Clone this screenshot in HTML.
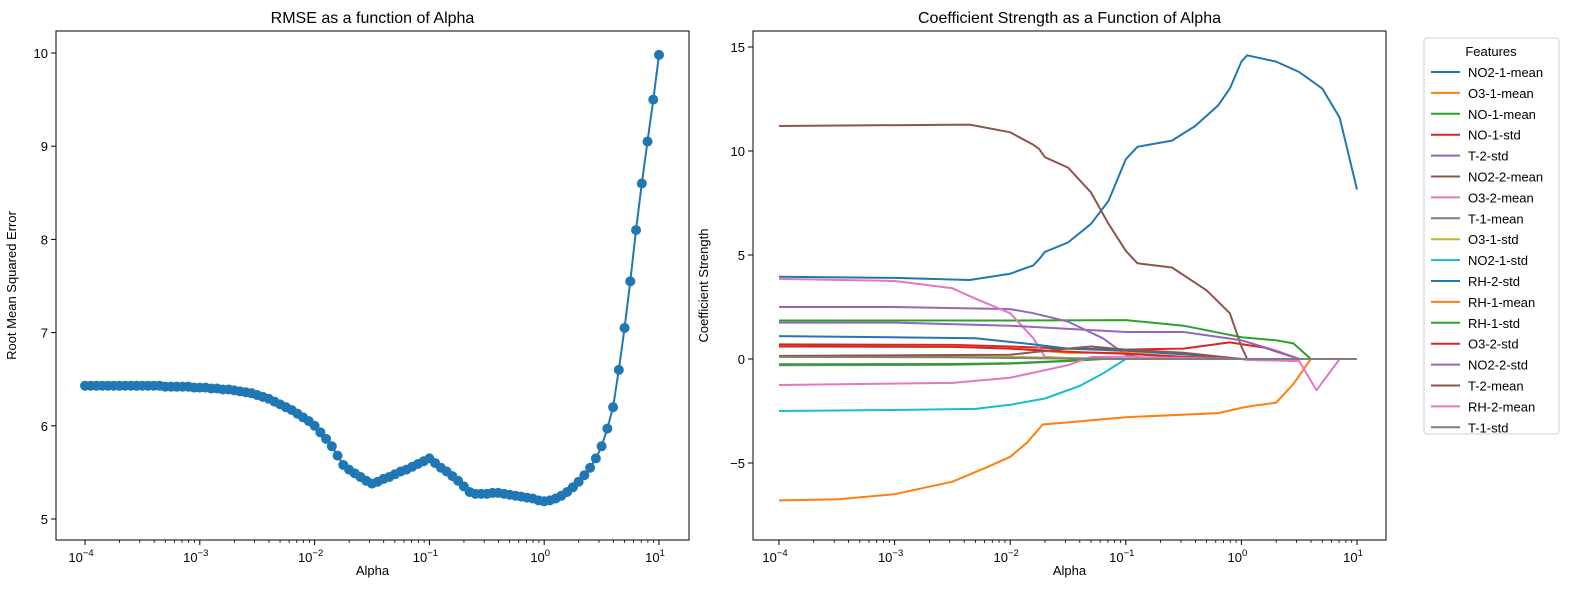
<!DOCTYPE html>
<html><head><meta charset="utf-8">
<style>
body{margin:0;background:#fff;}
svg{display:block;font-family:"Liberation Sans","DejaVu Sans",sans-serif;}
</style></head>
<body>
<svg id="chart" width="1593" height="590" viewBox="0 0 1593 590"></svg>
<script>
// ---- RMSE chart data (log10 alpha from -4 to 1, step 0.05) ----
const rmseLogAlphaStart = -4;
const rmseLogAlphaStep = 0.05;
const rmseValues = [
6.43,6.43,6.43,6.43,6.43,6.43,6.43,6.43,6.43,6.43,6.43,
6.43,6.43,6.43,6.42,6.42,6.42,6.42,6.42,6.41,6.41,
6.41,6.40,6.40,6.39,6.39,6.38,6.37,6.36,6.35,6.33,
6.31,6.29,6.26,6.23,6.20,6.17,6.13,6.09,6.05,6.00,
5.93,5.86,5.78,5.68,5.58,5.53,5.49,5.45,5.41,5.38,
5.40,5.43,5.45,5.48,5.51,5.53,5.56,5.59,5.62,5.65,
5.60,5.55,5.51,5.46,5.41,5.35,5.29,5.27,5.27,5.27,
5.28,5.28,5.27,5.26,5.25,5.24,5.23,5.22,5.20,5.19,
5.20,5.22,5.25,5.29,5.34,5.40,5.47,5.55,5.65,5.78,
5.97,6.20,6.60,7.05,7.55,8.10,8.60,9.05,9.50,9.98];
const rmseYTicks = [5,6,7,8,9,10];
const xTickExponents = [-4,-3,-2,-1,0,1];
const coefYTicks = [-5,0,5,10,15];

// ---- Coefficient data: [log10 alpha, coefficient] ----
const featureNames = ["NO2-1-mean","O3-1-mean","NO-1-mean","NO-1-std","T-2-std","NO2-2-mean","O3-2-mean","T-1-mean","O3-1-std","NO2-1-std","RH-2-std","RH-1-mean","RH-1-std","O3-2-std","NO2-2-std","T-2-mean","RH-2-mean","T-1-std"];
const featureColors = ["#1f77b4","#ff7f0e","#2ca02c","#d62728","#9467bd","#8c564b","#e377c2","#7f7f7f","#bcbd22","#17becf","#1f77b4","#ff7f0e","#2ca02c","#d62728","#9467bd","#8c564b","#e377c2","#7f7f7f"];
const coefNO2_1_mean=[[-4,3.95],[-3,3.9],[-2.35,3.8],[-2,4.1],[-1.8,4.5],[-1.75,4.8],[-1.7,5.15],[-1.5,5.6],[-1.3,6.5],[-1.15,7.6],[-1,9.6],[-0.9,10.2],[-0.6,10.5],[-0.4,11.2],[-0.2,12.2],[-0.1,13.0],[0,14.3],[0.05,14.6],[0.3,14.3],[0.5,13.8],[0.7,13.0],[0.85,11.6],[1,8.15]];
const coefO3_1_mean=[[-4,-6.8],[-3.5,-6.75],[-3,-6.5],[-2.5,-5.9],[-2.2,-5.2],[-2,-4.7],[-1.85,-4.0],[-1.72,-3.15],[-1.5,-3.05],[-1,-2.8],[-0.2,-2.6],[0,-2.35],[0.1,-2.25],[0.3,-2.1],[0.45,-1.2],[0.6,0],[1,0]];
const coefNO_1_mean=[[-4,1.85],[-2,1.85],[-1,1.87],[-0.5,1.6],[0,1.05],[0.3,0.9],[0.45,0.75],[0.6,0],[1,0]];
const coefNO_1_std=[[-4,0.7],[-2.5,0.68],[-2,0.6],[-1.5,0.5],[-1,0.45],[-0.5,0.5],[-0.1,0.8],[0.2,0.55],[0.5,0],[1,0]];
const coefT_2_std=[[-4,2.5],[-3,2.5],[-2,2.4],[-1.8,2.2],[-1.5,1.8],[-1.2,1.0],[-1,0.2],[-0.8,0],[1,0]];
const coefNO2_2_mean=[[-4,11.2],[-2.35,11.27],[-2,10.9],[-1.8,10.3],[-1.75,10.1],[-1.7,9.7],[-1.5,9.2],[-1.3,8.0],[-1.15,6.5],[-1,5.2],[-0.9,4.6],[-0.6,4.4],[-0.3,3.3],[-0.1,2.2],[0,0.6],[0.05,0],[1,0]];
const coefO3_2_mean=[[-4,3.85],[-3,3.75],[-2.5,3.4],[-2.3,2.9],[-2,2.2],[-1.8,1.0],[-1.7,0.1],[-1.5,0.05],[-1,0],[1,0]];
const coefT_1_mean=[[-4,-0.3],[-2.5,-0.28],[-2,-0.22],[-1.5,-0.1],[-1.2,0],[1,0]];
const coefO3_1_std=[[-4,0.1],[-2,0.1],[-1.5,0.05],[-1.2,0],[1,0]];
const coefNO2_1_std=[[-4,-2.5],[-3,-2.45],[-2.3,-2.4],[-2,-2.2],[-1.7,-1.9],[-1.4,-1.3],[-1.2,-0.7],[-1,0],[1,0]];
const coefRH_2_std=[[-4,1.1],[-2.3,1.0],[-1.8,0.7],[-1.5,0.5],[-1,0.4],[-0.3,0.15],[0,0],[1,0]];
const coefRH_1_mean=[[-4,0.6],[-2.5,0.6],[-2,0.5],[-1.5,0.3],[-1,0.3],[-0.5,0.1],[0,0],[1,0]];
const coefRH_1_std=[[-4,-0.25],[-2.5,-0.24],[-2,-0.2],[-1.5,-0.08],[-1.2,0],[1,0]];
const coefO3_2_std=[[-4,0.6],[-2.5,0.58],[-2,0.5],[-1.5,0.35],[-1,0.25],[-0.5,0.1],[0,0],[1,0]];
const coefNO2_2_std=[[-4,1.75],[-3,1.75],[-2,1.6],[-1,1.3],[-0.5,1.3],[0,0.9],[0.3,0.4],[0.5,0],[1,0]];
const coefT_2_mean=[[-4,0.15],[-2,0.2],[-1.6,0.45],[-1.3,0.6],[-1,0.45],[-0.5,0.3],[0,0],[1,0]];
const coefRH_2_mean=[[-4,-1.25],[-2.5,-1.15],[-2,-0.9],[-1.5,-0.3],[-1.3,0.1],[-1,0.1],[0,0],[0.05,-0.05],[0.5,-0.1],[0.65,-1.5],[0.85,0],[1,0]];
const coefT_1_std=[[-4,0.1],[-2.5,0.08],[-2,0.05],[-1.5,0.02],[-1,0],[1,0]];
const coefSeries=[coefNO2_1_mean,coefO3_1_mean,coefNO_1_mean,coefNO_1_std,coefT_2_std,coefNO2_2_mean,coefO3_2_mean,coefT_1_mean,coefO3_1_std,coefNO2_1_std,coefRH_2_std,coefRH_1_mean,coefRH_1_std,coefO3_2_std,coefNO2_2_std,coefT_2_mean,coefRH_2_mean,coefT_1_std];

const NS="http://www.w3.org/2000/svg";
const svg=document.getElementById('chart');
function mk(tag,attrs,parent){const e=document.createElementNS(NS,tag);for(const k in attrs)e.setAttribute(k,attrs[k]);(parent||svg).appendChild(e);return e;}

function drawAxes(g,box,xs,ys,yTicks,title,ylabel){
  // ticks
  for(const ex of xTickExponents){
    const x=xs(ex);
    const t=mk('line',{x1:x,x2:x,y1:box.b,y2:box.b+5,stroke:'#000','stroke-width':1},g);
    
    
    const tx=mk('text',{x:x-4,y:box.b+22,'font-size':13,'text-anchor':'middle',fill:'#000'},g);
    
    
    tx.textContent='10';
    const sp=mk('tspan',{dy:-6,'font-size':9.5},tx);sp.textContent=(ex<0?'\u2212':'')+Math.abs(ex);
    if(ex<1){for(let m=2;m<=9;m++){const xm=xs(ex+Math.log10(m));
      const mt=mk('line',{x1:xm,x2:xm,y1:box.b,y2:box.b+3,stroke:'#000','stroke-width':0.8},g);
      
      }}
  }
  for(const v of yTicks){
    const y=ys(v);
    const t=mk('line',{x1:box.l-5,x2:box.l,y1:y,y2:y,stroke:'#000','stroke-width':1},g);
    
    
    const tx=mk('text',{x:box.l-8,y:y+5,'font-size':13,'text-anchor':'end',fill:'#000'},g);
    
    
    tx.textContent=(v<0?'\u2212':'')+Math.abs(v);
  }
  const fr=mk('rect',{x:box.l,y:box.t,width:box.r-box.l,height:box.b-box.t,fill:'none',stroke:'#000','stroke-width':1},g);
  
  
  const ti=mk('text',{x:(box.l+box.r)/2,y:box.t-8,'font-size':16,'text-anchor':'middle',fill:'#000'},g);
  
  
  ti.textContent=title;
  const xl=mk('text',{x:(box.l+box.r)/2,y:box.b+35,'font-size':13,'text-anchor':'middle',fill:'#000'},g);
  
  
  xl.textContent='Alpha';
  const yx=box.l-(ylabel==='Root Mean Squared Error'?40:45);
  const yl=mk('text',{x:yx,y:(box.t+box.b)/2,'font-size':13,'text-anchor':'middle',fill:'#000',transform:`rotate(-90 ${yx} ${(box.t+box.b)/2})`},g);
  
  
  yl.textContent=ylabel;
}

// ---- Left: RMSE ----
const g1=mk('g',{});


const box1={l:56,r:689,t:31,b:540};
const xs1=l=>85+(l+4)*114.8;
const ys1=v=>519-(v-5)*93.2;
drawAxes(g1,box1,xs1,ys1,rmseYTicks,'RMSE as a function of Alpha','Root Mean Squared Error');
let d='';
rmseValues.forEach((v,i)=>{const l=rmseLogAlphaStart+i*rmseLogAlphaStep;d+=(i?'L':'M')+xs1(l).toFixed(1)+','+ys1(v).toFixed(1);});
const rl=mk('path',{d:d,fill:'none',stroke:'#1f77b4','stroke-width':2},g1);


rmseValues.forEach((v,i)=>{const l=rmseLogAlphaStart+i*rmseLogAlphaStep;
  const c=mk('circle',{cx:xs1(l),cy:ys1(v),r:5,fill:'#1f77b4'},g1);
  
  });

// ---- Right: coefficients ----
const g2=mk('g',{});


const box2={l:753,r:1386,t:31,b:540};
const xs2=l=>779+(l+4)*115.6;
const ys2=v=>359-v*20.8;
drawAxes(g2,box2,xs2,ys2,coefYTicks,'Coefficient Strength as a Function of Alpha','Coefficient Strength');
coefSeries.forEach((s,i)=>{
  const dd=s.map((p,j)=>(j?'L':'M')+xs2(p[0]).toFixed(1)+','+ys2(p[1]).toFixed(1)).join('');
  const p=mk('path',{d:dd,fill:'none',stroke:featureColors[i],'stroke-width':2,'stroke-linejoin':'round'},g2);
  
  
});

// ---- Legend ----
const lg=mk('g',{});


const lr=mk('rect',{x:1424,y:38,width:135,height:396,rx:3,fill:'#fff',stroke:'#d0d0d0'},lg);


const lt=mk('text',{x:1491,y:56,'font-size':13,'text-anchor':'middle',fill:'#000'},lg);


lt.textContent='Features';
featureNames.forEach((n,i)=>{
  const y=72+i*20.9;
  const ln=mk('line',{x1:1431,x2:1460,y1:y,y2:y,stroke:featureColors[i],'stroke-width':2},lg);
  
  
  const tx=mk('text',{x:1468,y:y+5,'font-size':13,fill:'#000'},lg);
  
  
  tx.textContent=n;
});
</script>
</body></html>
